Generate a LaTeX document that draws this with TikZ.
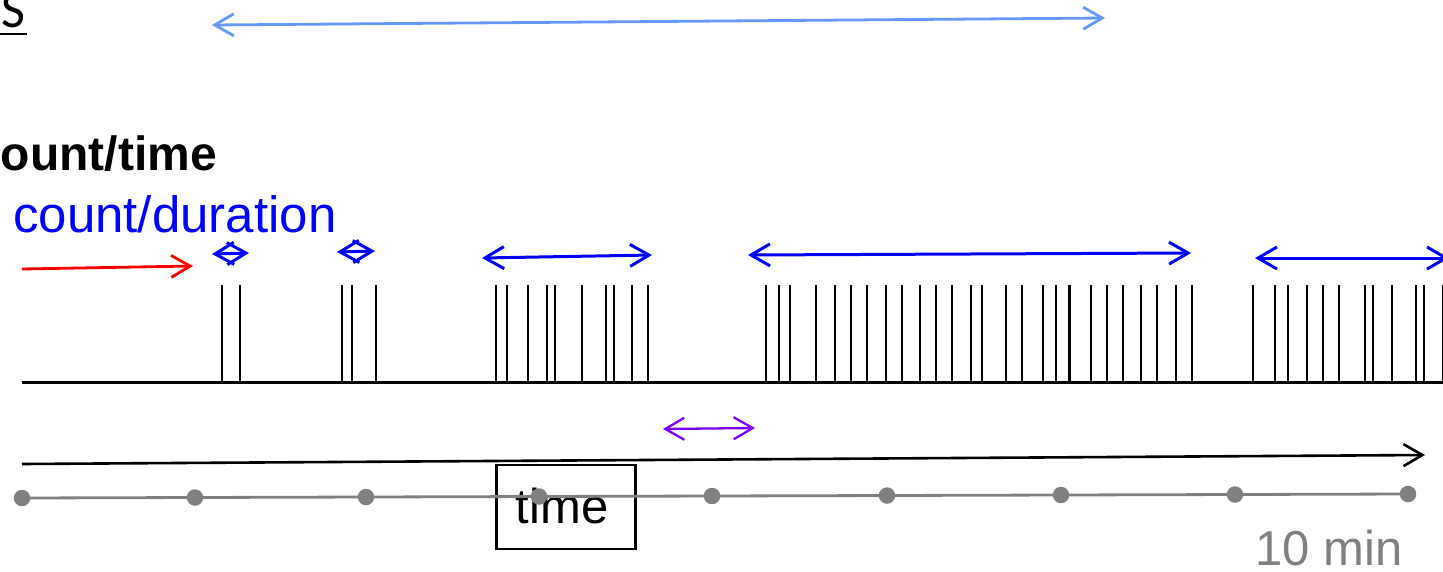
\documentclass[tikz,border=0pt]{standalone}
\usepackage{fontspec}
\setmainfont{Liberation Sans}
\newfontfamily\calib{Carlito}
\usetikzlibrary{arrows.meta}
\definecolor{arrblue}{RGB}{0,0,255}
\definecolor{lightblue}{RGB}{102,153,255}
\definecolor{purp}{RGB}{128,0,255}
\definecolor{grayc}{RGB}{128,128,128}
\definecolor{redc}{RGB}{255,0,0}
\tikzset{
  barb/.style={-{Straight Barb[length=19pt,width=22pt]}},
  dbl/.style={{Straight Barb[length=19pt,width=22pt]}-{Straight Barb[length=19pt,width=22pt]}},
  spike/.style={line width=2.3pt, black},
  dotn/.style={circle, fill=grayc, draw=none, minimum size=16.5pt, inner sep=0pt},
  lbl/.style={inner sep=0pt},
}
\begin{document}
\begin{tikzpicture}[x=1pt,y=-1pt]
\useasboundingbox (0,0) rectangle (1443,571);

% top-left texts
\node[lbl, anchor=base west, font=\calib\fontsize{52}{60}\selectfont] (S) at (1,27) {S};
\draw[line width=2pt] (0,34) -- (27,34);
\node[lbl, anchor=base east, font=\bfseries\fontsize{48}{58}\selectfont] (ct) at (217,170) {ount/time};
\node[lbl, anchor=base west, text=arrblue, font=\fontsize{51}{60}\selectfont] (cd) at (13,232) {count/duration};

% top light blue arrow
\coordinate (tA) at (212,25);
\coordinate (tB) at (1105,18);
\draw[dbl, lightblue, line width=2.8pt] (tA) -- (tB);

% red arrow
\coordinate (rA) at (22,269);
\coordinate (rB) at (193,266);
\draw[barb, redc, line width=2.8pt] (rA) -- (rB);

% blue duration arrows
\coordinate (b1a) at (212,254); \coordinate (b1b) at (249,253);
\coordinate (b2a) at (337,252); \coordinate (b2b) at (375,251);
\coordinate (b3a) at (482,258); \coordinate (b3b) at (652,255);
\coordinate (b4a) at (748,255); \coordinate (b4b) at (1191,253);
\coordinate (b5a) at (1255,258); \coordinate (b5b) at (1449,258);
\foreach \a/\b in {b1a/b1b,b2a/b2b,b3a/b3b,b4a/b4b,b5a/b5b}
  \draw[dbl, arrblue, line width=3pt] (\a) -- (\b);

% spikes
\foreach \x in {222,240, 341.7,352.3,376.3,
  496.3,507,528.3,547,555,581.7,605.7,613.7,632.3,648.3,
  765.7,779,789.7,816.3,835,851,867,885.7,901.7,920.3,936.3,952.3,971,981.7,1005.7,1021.7,1043,1056,1069.5,1090.7,1106.7,1122.7,1141.3,1157.3,1176,1192,
  1253.3,1274.7,1288,1306.7,1322.7,1338.7,1365.3,1373.3,1392,1416,1424,1442.7}
  \draw[spike] (\x,285) -- (\x,382);
\coordinate (bl0) at (22,382);
\coordinate (bl1) at (1445,382);
\draw[line width=3pt] (bl0) -- (bl1);

% purple arrow
\coordinate (pA) at (663,429);
\coordinate (pB) at (755,428);
\draw[dbl, purp, line width=2.3pt] (pA) -- (pB);

% time axis
\coordinate (axA) at (22,464);
\coordinate (axB) at (1425,455);
\draw[barb, black, line width=2.6pt] (axA) -- (axB);

% time box
\node[draw, line width=2.3pt, minimum width=139pt, minimum height=84pt, inner sep=0pt] (box) at (566,507) {};
\node[lbl, anchor=base, font=\fontsize{49}{58}\selectfont] (timel) at (562,523) {time};

% gray timeline with dots
\foreach \i/\x in {0/22,1/195,2/366,3/539,4/712,5/887,6/1061,7/1235,8/1408}
  \coordinate (c\i) at (\x,{498-4*\i/8});
\draw[grayc, line width=2.8pt] (c0) -- (c1) -- (c2) -- (c3) -- (c4) -- (c5) -- (c6) -- (c7) -- (c8);
\foreach \i in {0,...,8}
  \node[dotn] (d\i) at (c\i) {};

% 10 min
\node[lbl, anchor=base east, text=grayc, font=\fontsize{49}{58}\selectfont] (tenmin) at (1403,565) {10 min};
\end{tikzpicture}
\end{document}
